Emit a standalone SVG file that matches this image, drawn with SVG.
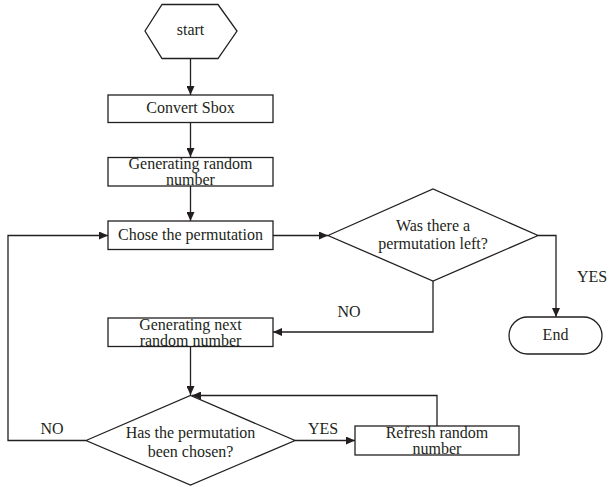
<svg xmlns="http://www.w3.org/2000/svg" width="610" height="487" viewBox="0 0 610 487" font-family="'Liberation Serif', 'Times New Roman', serif">
<style>
.s{fill:#fff;stroke:#231f20;stroke-width:1.3}
.c{fill:none;stroke:#231f20;stroke-width:1.3}
text{font-family:"Liberation Serif","Times New Roman",serif;font-size:16px;fill:#231f20}
.m{text-anchor:middle}
</style>
<defs>
<marker id="ah" markerWidth="9" markerHeight="8" refX="9" refY="4" orient="auto" markerUnits="userSpaceOnUse">
<path d="M0,0 L9,4 L0,8 Z" fill="#231f20"/>
</marker>
</defs>
<rect width="610" height="487" fill="#fff"/>
<g id="connectors">
<line class="c" x1="190.5" y1="59" x2="190.5" y2="95" marker-end="url(#ah)"/>
<line class="c" x1="190.5" y1="122" x2="190.5" y2="157" marker-end="url(#ah)"/>
<line class="c" x1="190.5" y1="186" x2="190.5" y2="221" marker-end="url(#ah)"/>
<line class="c" x1="273" y1="235.5" x2="328" y2="235.5" marker-end="url(#ah)"/>
<polyline class="c" points="538,235.5 556,235.5 556,317" marker-end="url(#ah)"/>
<polyline class="c" points="433,281 433,332 273,332" marker-end="url(#ah)"/>
<line class="c" x1="190.5" y1="346" x2="190.5" y2="395" marker-end="url(#ah)"/>
<line class="c" x1="295" y1="440.5" x2="355" y2="440.5" marker-end="url(#ah)"/>
<polyline class="c" points="437,426 437,395.5 192,395.5" marker-end="url(#ah)"/>
<polyline class="c" points="86,440.5 8,440.5 8,235.5 108,235.5" marker-end="url(#ah)"/>
<text x="349" y="317" class="m">NO</text>
<text x="577" y="282">YES</text>
<text x="52" y="434" class="m">NO</text>
<text x="323" y="434" class="m">YES</text>
</g>
<g id="start">
<polygon class="s" points="145,31 162,4.5 218,4.5 237,31 218,58.5 162,58.5"/>
<text x="190.5" y="35" class="m">start</text>
</g>
<g id="convert">
<rect class="s" x="108" y="95" width="165" height="27.5"/>
<text x="190.5" y="113" class="m">Convert Sbox</text>
</g>
<g id="genrand">
<rect class="s" x="108" y="157.5" width="165" height="28.5"/>
<text x="190.5" y="169" class="m">Generating random</text>
<text x="190.5" y="184.5" class="m">number</text>
</g>
<g id="chose">
<rect class="s" x="108" y="221" width="165" height="28.5"/>
<text x="190.5" y="240" class="m">Chose the permutation</text>
</g>
<g id="left">
<polygon class="s" points="328,235.5 433,189 538,235.5 433,281"/>
<text x="433" y="231" class="m">Was there a</text>
<text x="433" y="249" class="m">permutation left?</text>
</g>
<g id="end">
<rect class="s" x="509" y="317" width="93" height="37" rx="18.5"/>
<text x="555.5" y="340" class="m">End</text>
</g>
<g id="gennext">
<rect class="s" x="108" y="318" width="165" height="28.5"/>
<text x="190.5" y="330" class="m">Generating next</text>
<text x="190.5" y="345.5" class="m">random number</text>
</g>
<g id="chosen">
<polygon class="s" points="86,440.5 190.5,395.5 295,440.5 190.5,485"/>
<text x="190.5" y="438" class="m">Has the permutation</text>
<text x="190.5" y="457" class="m">been chosen?</text>
</g>
<g id="refresh">
<rect class="s" x="355" y="426" width="164" height="29"/>
<text x="437" y="438" class="m">Refresh random</text>
<text x="437" y="453.5" class="m">number</text>
</g>
</svg>
